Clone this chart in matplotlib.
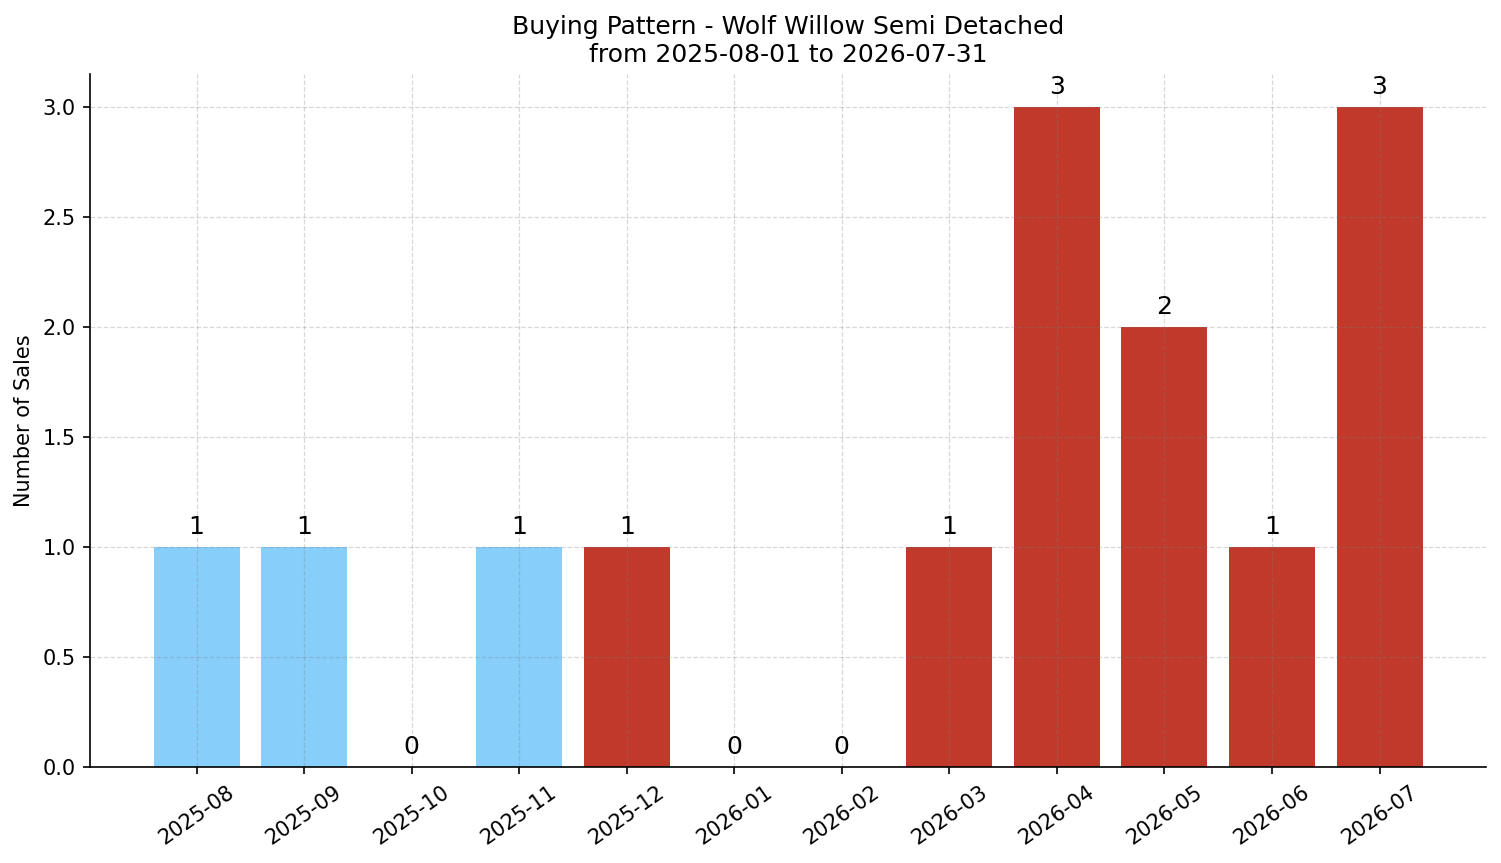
import numpy as np
import matplotlib
matplotlib.use("Agg")
import matplotlib.pyplot as plt

months = ["2025-08", "2025-09", "2025-10", "2025-11", "2025-12", "2026-01",
          "2026-02", "2026-03", "2026-04", "2026-05", "2026-06", "2026-07"]
sales = [1, 1, 0, 1, 1, 0, 0, 1, 3, 2, 1, 3]
# first four months in light blue, the rest in red
past_flags = [True, True, True, True, False, False, False, False, False, False, False, False]

blue = "#87CEFA"
red = "#C0392B"

fig, ax = plt.subplots(figsize=(1501 / 150, 863 / 150), dpi=150)
fig.subplots_adjust(left=0.06, right=0.99, top=0.914, bottom=0.111)

x = np.arange(len(months))
colors = [blue if p else red for p in past_flags]
bars = ax.bar(x, sales, width=0.8, color=colors)

for xi, v in zip(x, sales):
    ax.annotate(str(v), (xi, v), xytext=(0, 4), textcoords="offset points",
                ha="center", va="bottom", fontsize=12)

ax.set_xticks(x)
ax.set_xticklabels(months, rotation=35)
ax.set_ylim(0, 3.15)
ax.set_xlim(-0.99, 11.99)
ax.set_ylabel("Number of Sales")
ax.set_title("Buying Pattern - Wolf Willow Semi Detached\nfrom 2025-08-01 to 2026-07-31", fontsize=12)
ax.grid(True, linestyle="--", linewidth=0.6, color="gray", alpha=0.3)
ax.spines["top"].set_visible(False)
ax.spines["right"].set_visible(False)

plt.savefig("out.png", dpi=150)
